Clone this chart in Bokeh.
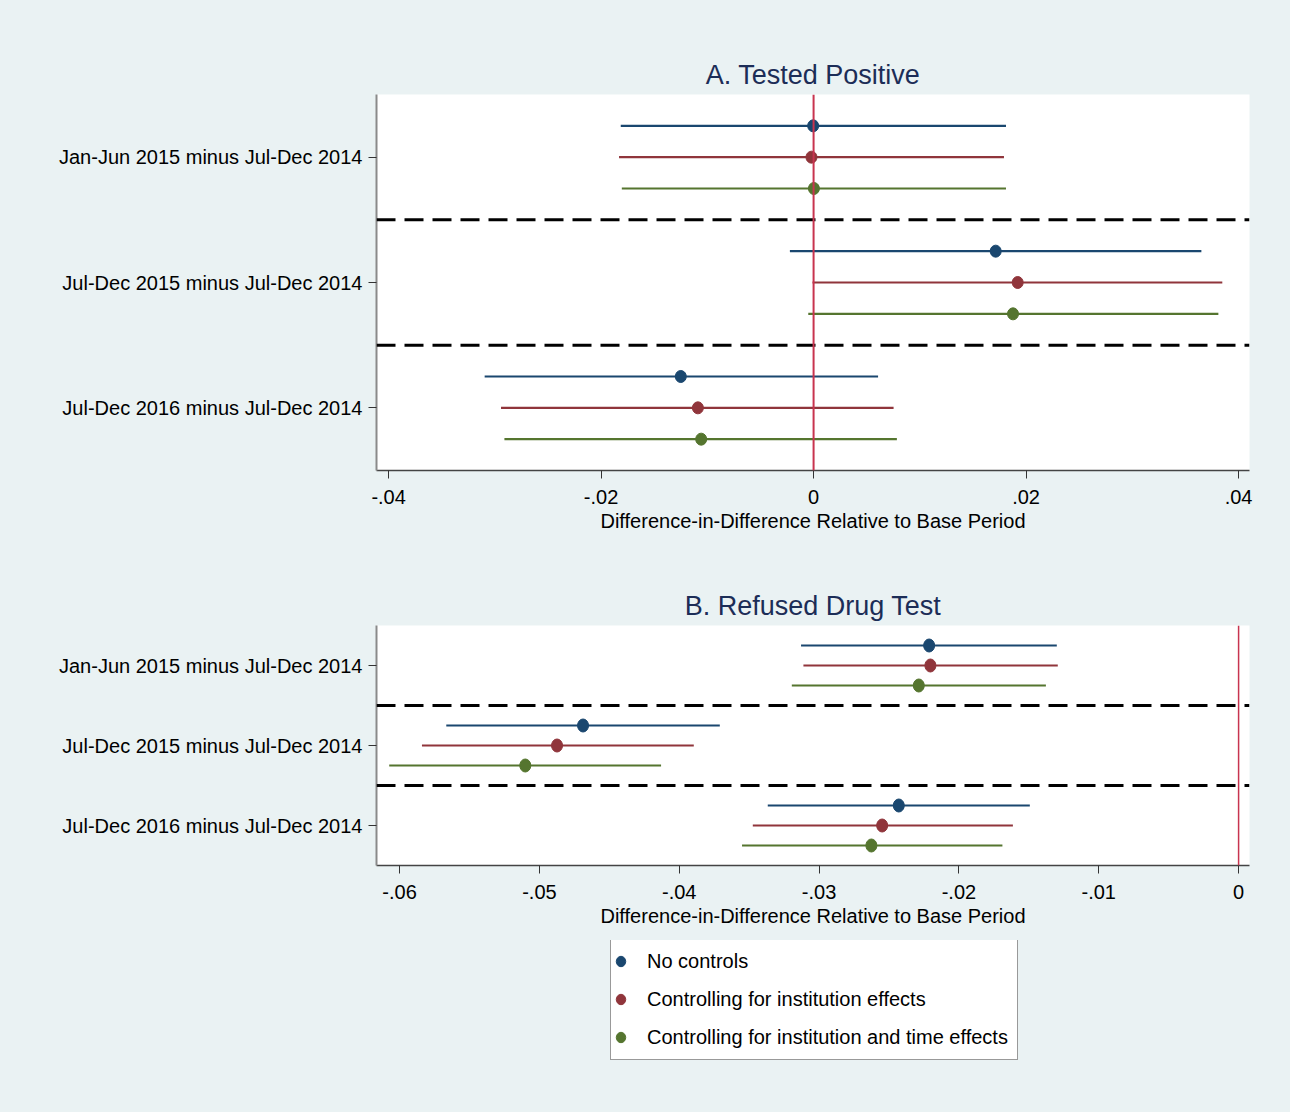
from bokeh.plotting import figure
from bokeh.models import Range1d, FixedTicker, Span, Legend, LegendItem
from bokeh.layouts import column
from bokeh.embed import file_html
from bokeh.resources import INLINE

# ---------------- data ----------------
categories = ["Jan-Jun 2015 minus Jul-Dec 2014",
              "Jul-Dec 2015 minus Jul-Dec 2014",
              "Jul-Dec 2016 minus Jul-Dec 2014"]
series_names = ["No controls",
                "Controlling for institution effects",
                "Controlling for institution and time effects"]

# Panel A: Tested Positive (estimate, lower CI, upper CI)
a_none_est = [-0.00004, 0.01714, -0.01250]
a_none_lo = [-0.01815, -0.00223, -0.03096]
a_none_hi = [0.01811, 0.03650, 0.00607]
a_inst_est = [-0.00020, 0.01921, -0.01089]
a_inst_lo = [-0.01831, -0.00010, -0.02942]
a_inst_hi = [0.01792, 0.03847, 0.00753]
a_time_est = [0.00003, 0.01877, -0.01058]
a_time_lo = [-0.01805, -0.00050, -0.02910]
a_time_hi = [0.01811, 0.03810, 0.00784]

# Panel B: Refused Drug Test
b_none_est = [-0.02213, -0.04688, -0.02430]
b_none_lo = [-0.03129, -0.05666, -0.03367]
b_none_hi = [-0.01300, -0.03710, -0.01493]
b_inst_est = [-0.02204, -0.04874, -0.02549]
b_inst_lo = [-0.03112, -0.05840, -0.03474]
b_inst_hi = [-0.01293, -0.03896, -0.01614]
b_time_est = [-0.02287, -0.05101, -0.02626]
b_time_lo = [-0.03195, -0.06074, -0.03551]
b_time_hi = [-0.01378, -0.04130, -0.01689]

a_xticks = [-0.04, -0.02, 0, 0.02, 0.04]
a_xtick_labels = ["-.04", "-.02", "0", ".02", ".04"]
b_xticks = [-0.06, -0.05, -0.04, -0.03, -0.02, -0.01, 0]
b_xtick_labels = ["-.06", "-.05", "-.04", "-.03", "-.02", "-.01", "0"]

# ---------------- style ----------------
FONT = "Liberation Sans"
BG = "#eaf2f3"
COLORS = ["#1a476f", "#90353b", "#55752f"]
OFFSETS = [-0.25, 0.0, 0.25]
ZERO_COLOR = "#c8344f"
TITLE_COLOR = "#1c2d57"
W = 1290
FRAME_L = 376
FRAME_W = 873
FRAME_R = W - FRAME_L - FRAME_W


def make_panel(title, series, xr, xticks, xlabels, height, top, bottom,
               marker_h, zero_w):
    p = figure(width=W, height=height, output_backend="svg",
               toolbar_location=None, title=title,
               x_range=Range1d(*xr), y_range=Range1d(3.5, 0.5),
               min_border_left=FRAME_L, min_border_right=FRAME_R,
               min_border_top=top, min_border_bottom=bottom)
    p.border_fill_color = BG
    p.background_fill_color = "white"
    p.outline_line_color = None
    p.xgrid.visible = False
    p.ygrid.visible = False

    p.title.text_font = FONT
    p.title.text_font_size = "27px"
    p.title.text_font_style = "normal"
    p.title.text_color = TITLE_COLOR
    p.title.align = "center"
    p.title.standoff = 10

    for loc in [1.5, 2.5]:
        p.add_layout(Span(location=loc, dimension="width", line_color="black",
                          line_width=3, line_dash="19 9"))
    p.add_layout(Span(location=0, dimension="height", line_color=ZERO_COLOR,
                      line_width=zero_w))

    cat_pos = list(range(1, len(categories) + 1))
    for (est, lo, hi), col, off in zip(series, COLORS, OFFSETS):
        ys = [c + off for c in cat_pos]
        p.segment(x0=lo, x1=hi, y0=ys, y1=ys, line_color=col, line_width=2.2)
        p.ellipse(x=est, y=ys, width=11, height=marker_h,
                  width_units="screen", height_units="screen",
                  fill_color=col, line_color=col)

    xa = p.xaxis[0]
    xa.ticker = FixedTicker(ticks=xticks, minor_ticks=[])
    xa.major_label_overrides = {t: l for t, l in zip(xticks, xlabels)}
    xa.axis_label = "Difference-in-Difference Relative to Base Period"
    xa.axis_label_text_font = FONT
    xa.axis_label_text_font_size = "20px"
    xa.axis_label_text_font_style = "normal"
    xa.axis_label_text_color = "black"
    xa.axis_label_standoff = 3
    xa.major_label_text_font = FONT
    xa.major_label_text_font_size = "20px"
    xa.major_label_text_color = "black"
    xa.major_label_standoff = 11
    xa.axis_line_color = "#444444"
    xa.axis_line_width = 1.5
    xa.major_tick_line_color = "#333333"
    xa.major_tick_in = 0
    xa.major_tick_out = 8
    xa.minor_tick_line_color = None

    ya = p.yaxis[0]
    ya.ticker = FixedTicker(ticks=cat_pos, minor_ticks=[])
    ya.major_label_overrides = {c: n for c, n in zip(cat_pos, categories)}
    ya.major_label_text_font = FONT
    ya.major_label_text_font_size = "20px"
    ya.major_label_text_color = "black"
    ya.major_label_standoff = 6
    ya.axis_line_color = "#8a8a8a"
    ya.axis_line_width = 2
    ya.major_tick_line_color = "#333333"
    ya.major_tick_in = 0
    ya.major_tick_out = 8
    ya.minor_tick_line_color = None
    return p


pa = make_panel(
    "A. Tested Positive",
    [(a_none_est, a_none_lo, a_none_hi),
     (a_inst_est, a_inst_lo, a_inst_hi),
     (a_time_est, a_time_lo, a_time_hi)],
    (-0.04114, 0.04103), a_xticks, a_xtick_labels,
    height=560, top=94, bottom=90, marker_h=12, zero_w=2)

pb = make_panel(
    "B. Refused Drug Test",
    [(b_none_est, b_none_lo, b_none_hi),
     (b_inst_est, b_inst_lo, b_inst_hi),
     (b_time_est, b_time_lo, b_time_hi)],
    (-0.06165, 0.00078), b_xticks, b_xtick_labels,
    height=380, top=65, bottom=75, marker_h=13, zero_w=1.5)

# ---------------- legend strip ----------------
pc = figure(width=W, height=172, output_backend="svg", toolbar_location=None,
            x_axis_location=None, y_axis_location=None,
            x_range=Range1d(0, 1), y_range=Range1d(0, 1),
            min_border_left=FRAME_L, min_border_right=FRAME_R,
            min_border_top=0, min_border_bottom=52)
pc.border_fill_color = BG
pc.background_fill_color = None
pc.outline_line_color = None
pc.xgrid.visible = False
pc.ygrid.visible = False
# key markers: panel B estimates, which lie outside this strip's x range,
# so only their legend glyphs are seen
leg_renderers = []
for est, col in zip([b_none_est, b_inst_est, b_time_est], COLORS):
    leg_renderers.append(pc.ellipse(x=est, y=[0.5] * len(est), width=10,
                                    height=11, width_units="screen",
                                    height_units="screen",
                                    fill_color=col, line_color=col))
legend = Legend(items=[LegendItem(label=n, renderers=[r], index=0)
                       for n, r in zip(series_names, leg_renderers)],
                location=(234, 0), orientation="vertical")
legend.label_text_font = FONT
legend.label_text_font_size = "20px"
legend.label_text_color = "black"
legend.glyph_width = 13
legend.glyph_height = 38
legend.label_height = 38
legend.label_width = 367
legend.spacing = 0
legend.padding = 3
legend.label_standoff = 20
legend.margin = 0
legend.border_line_color = "#333333"
legend.border_line_width = 1
legend.background_fill_color = "white"
legend.background_fill_alpha = 1
pc.add_layout(legend)

layout = column(pa, pb, pc, spacing=0, styles={"background-color": BG})
open("out.html", "w").write(file_html(layout, INLINE))
